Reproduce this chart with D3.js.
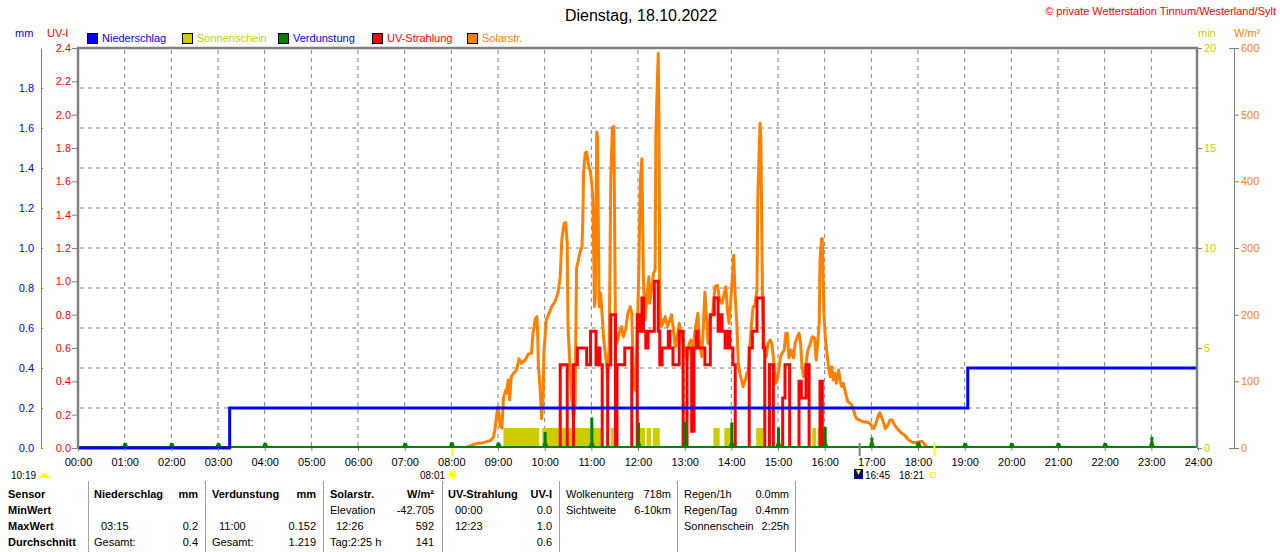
<!DOCTYPE html>
<html>
<head>
<meta charset="utf-8">
<script src="https://cdn.jsdelivr.net/npm/d3@7"></script>
<style>
body { margin:0; background:#fff; }
svg text { font-family: "Liberation Sans", Arial, sans-serif; font-size: 11px; }
</style>
</head>
<body>
<svg id="chart" width="1280" height="552"></svg>
<script>
// ---- data (times in minutes after midnight) ----
var hourLabels = ["00:00","01:00","02:00","03:00","04:00","05:00","06:00","07:00","08:00","09:00","10:00","11:00","12:00",
                  "13:00","14:00","15:00","16:00","17:00","18:00","19:00","20:00","21:00","22:00","23:00","24:00"];
var mmTicks = [0,0.2,0.4,0.6,0.8,1.0,1.2,1.4,1.6,1.8];
var uvTicks = [0,0.2,0.4,0.6,0.8,1.0,1.2,1.4,1.6,1.8,2.0,2.2,2.4];
var minTicks = [0,5,10,15,20];
var wTicks = [0,100,200,300,400,500,600];

// Niederschlag (Tagessumme, mm)
var rainTime = [0, 195, 1144, 1440];
var rainSum  = [0, 0.2, 0.4, 0.4];

// Sonnenschein (min)
var sunStart = [547, 597, 685, 721, 731, 739, 817, 831, 872, 944, 951];
var sunEnd   = [593, 673, 690, 729, 737, 748, 825, 842, 881, 949, 962];
var sunMin   = [1, 1, 1, 1, 1, 1, 1, 1, 1, 1, 1];

// Verdunstung (mm pro Stunde)
var evapHour = [1,2,3,4,5,6,7,8,9,10,11,12,13,14,15,16,17,18,19,20,21,22,23];
var evapMm   = [0.025,0.025,0.025,0.025,0,0,0.025,0.03,0.027,0.08,0.152,0.127,0.13,0.127,0.103,0.105,0.053,0.03,0.025,0.025,0.025,0.025,0.055];

// UV-Strahlung (UV-I)
var uvTime = [0,620,629,637,642,654,659,666,668,671,674,681,685,691,693,703,712,719,723,725,727,730,733,741,746,748,751,759,761,765,
              773,778,783,789,792,795,797,806,813,818,823,825,828,832,836,838,842,845,863,867,873,881,883,889,894,906,909,915,927,930,
              936,940,954,957,1440];
var uvVal  = [0,0.5,0,0.5,0.6,0.5,0.7,0.5,0.6,0.5,0,0.5,0.8,0,0.5,0.6,0,0.8,0.7,0.9,0.7,0.6,0.7,1.0,0.7,0.5,0.6,0.7,0.6,0.5,
              0.7,0,0.6,0.1,0.6,0.7,0.6,0.5,0.8,0.9,0.7,0.8,0.7,0.6,0.7,0.6,0.5,0,0.6,0.7,0.9,0.6,0,0.5,0,0.3,0.5,0,0.4,0.3,
              0.5,0,0.4,0,0];

// Solarstrahlung (W/m²)
var solarTime = [0,499,502,513,521,530,534,536,538,540,543,545,547,550,551,553,555,557,560,564,567,570,575,579,583,585,588,590,591,592,
  594,596,598,599,602,605,609,613,617,620,622,625,627,629,630,633,635,637,639,641,643,645,648,649,650,652,654,656,659,661,
  662,664,665,667,668,670,672,674,676,679,681,683,685,687,689,691,693,697,699,701,704,707,710,712,714,716,718,721,723,725,
  727,729,731,734,735,738,740,742,743,746,747,748,750,752,755,758,761,763,765,768,770,773,776,779,783,786,788,791,794,797,
  799,802,804,806,808,810,813,816,819,822,825,828,830,833,835,837,839,842,843,845,847,849,851,853,855,858,860,862,864,866,
  868,870,873,874,876,877,878,880,882,885,887,890,892,895,897,900,903,905,908,910,912,914,917,920,922,925,927,929,931,933,
  936,938,941,944,947,949,951,953,954,956,957,959,961,963,965,967,969,971,973,975,978,980,982,984,987,988,990,993,995,997,
  999,1001,1005,1010,1014,1018,1023,1026,1029,1031,1034,1038,1041,1044,1047,1050,1055,1059,1063,1068,1072,1076,1080,1085,1088,1091,
  1093,1440];
var solarVal = [0,0,2,7,8,11,16,27,47,62,32,30,75,87,82,102,72,107,112,117,134,127,132,141,142,172,194,197,172,122,
  92,44,77,142,192,200,212,219,232,257,312,337,338,307,182,112,72,42,62,270,280,292,302,342,412,442,444,427,412,392,
  372,212,222,474,467,212,232,197,162,132,102,152,402,481,482,177,157,177,182,167,177,202,212,202,112,87,127,262,402,434,
  252,192,222,257,217,242,262,267,472,592,482,212,182,187,197,182,192,200,182,152,162,187,167,152,132,157,162,152,182,202,
  157,137,182,234,197,157,197,202,242,244,222,217,227,242,207,187,217,267,289,227,187,127,112,102,92,102,112,117,157,187,
  212,212,237,372,457,487,462,227,152,137,157,162,157,127,97,107,135,142,147,172,172,135,147,135,157,167,172,157,120,107,
  125,145,155,167,165,132,157,187,282,314,314,202,162,142,122,107,122,102,112,97,117,100,92,97,82,77,69,67,64,57,
  49,44,42,39,39,37,29,37,49,53,44,29,34,42,42,34,27,22,19,12,9,8,9,10,6,2,
  0,0];

// Sonnenaufgang / Monduntergang / Sonnenuntergang
var sunriseMin = 481, moonMin = 1005, sunsetMin = 1101;

// ---- scales ----
var svg = d3.select("#chart");
var xTime = d3.scaleLinear().domain([0,1440]).range([78,1198]);
var yMm  = d3.scaleLinear().domain([0,2.0]).range([448,48]);
var yUv  = d3.scaleLinear().domain([0,2.4]).range([448,48]);
var yMin = d3.scaleLinear().domain([0,20]).range([448,48]);
var yW   = d3.scaleLinear().domain([0,600]).range([448,48]);
var grey = "#808080";

svg.append("clipPath").attr("id","plotclip") //keep lines inside the plot, above the zero line
    .append("rect").attr("x",78).attr("y",40).attr("width",1120).attr("height",406);

function addText(x, y, str, color, anchor, bold, size) //helper for all labels
{
    return svg.append("text")
        .attr("x", x).attr("y", y)
        .attr("fill", color || "#000")
        .attr("text-anchor", anchor || "start")
        .attr("font-weight", bold ? "bold" : "normal")
        .style("font-size", (size || 11) + "px")
        .text(str);
}

// ---- grid ----
svg.append("g").selectAll("line") //vertical dashed lines every hour
    .data(d3.range(1,24))
    .enter().append("line")
    .attr("x1", d => xTime(d*60) ).attr("x2", d => xTime(d*60))
    .attr("y1", 50).attr("y2", 446)
    .attr("stroke", grey).attr("stroke-dasharray","4,4");
svg.append("g").selectAll("line") //horizontal dashed lines on mm steps
    .data(mmTicks.slice(1))
    .enter().append("line")
    .attr("x1", 80).attr("x2", 1196)
    .attr("y1", d => yMm(d)).attr("y2", d => yMm(d))
    .attr("stroke", grey).attr("stroke-dasharray","4,4");

// ---- sunshine bars ----
svg.append("g").selectAll("rect")
    .data(sunStart)
    .enter().append("rect")
    .attr("x", (d,i) => xTime(d))
    .attr("width", (d,i) => xTime(sunEnd[i]) - xTime(d))
    .attr("y", (d,i) => yMin(sunMin[i]))
    .attr("height", (d,i) => yMin(0) - yMin(sunMin[i]))
    .attr("fill", "#cccc00");

// ---- solar line ----
var solarLine = d3.line().x(d => xTime(d[0])).y(d => yW(d[1]));
svg.append("path")
    .attr("d", solarLine(d3.zip(solarTime, solarVal)))
    .attr("clip-path","url(#plotclip)")
    .attr("fill","none").attr("stroke","#ff8000")
    .attr("stroke-width",3).attr("stroke-linejoin","round");

// ---- UV line ----
var uvLine = d3.line().curve(d3.curveStepAfter).x(d => xTime(d[0])).y(d => yUv(d[1]));
svg.append("path")
    .attr("d", uvLine(d3.zip(uvTime, uvVal)))
    .attr("clip-path","url(#plotclip)")
    .attr("fill","none").attr("stroke","#ff0000").attr("stroke-width",3);

// ---- evaporation ----
svg.append("line") //green zero line
    .attr("x1", 78).attr("x2", 1197).attr("y1", 447).attr("y2", 447)
    .attr("stroke", "#008000").attr("stroke-width", 2);
svg.append("g").selectAll("path")
    .data(evapHour)
    .enter().append("path")
    .attr("d", function(d,i){
        var x = xTime(d*60), top = yMm(evapMm[i]), base = yMm(0);
        if(evapMm[i] == 0) return "";
        var tri = Math.max(top, base - 6);
        return "M" + (x-1) + "," + base + "V" + top + "H" + (x+2) + "V" + base + "Z" +
               "M" + (x-3) + "," + base + "L" + (x-1) + "," + tri + "H" + (x+2) + "L" + (x+4) + "," + base + "Z";
    })
    .attr("fill", "#008000");

// ---- rain ----
var rainLine = d3.line().curve(d3.curveStepAfter).x(d => xTime(d[0])).y(d => yMm(d[1]));
svg.append("path")
    .attr("d", rainLine(d3.zip(rainTime, rainSum)))
    .attr("fill","none").attr("stroke","#0000ff").attr("stroke-width",3);

// ---- frame ----
svg.append("path")
    .attr("d", "M78,448V48H1197V448")
    .attr("fill","none").attr("stroke", grey).attr("stroke-width", 2.5);

// ---- axes ----
function styleAxis(g, color) {
    g.attr("font-size", 11).attr("font-family", "Liberation Sans, Arial, sans-serif");
    g.selectAll("line").attr("stroke", grey);
    g.selectAll("path").attr("stroke", grey);
    g.selectAll("text").attr("fill", color);
}
var xAxis = svg.append("g").attr("transform","translate(0,448)")
    .call(d3.axisBottom(xTime).tickValues(d3.range(0,25).map(h => h*60))
          .tickFormat((d,i) => hourLabels[i]).tickSize(3).tickPadding(7));
styleAxis(xAxis, "#000"); xAxis.select(".domain").remove();

var mmAxis = svg.append("g").attr("transform","translate(41,0)")
    .call(d3.axisLeft(yMm).tickValues(mmTicks).tickFormat(d3.format(".1f")).tickSizeInner(5).tickSizeOuter(0).tickPadding(2));
styleAxis(mmAxis, "#0000ff");
mmAxis.selectAll(".tick line").attr("x2", 2);

var uvAxis = svg.append("g").attr("transform","translate(78,0)")
    .call(d3.axisLeft(yUv).tickValues(uvTicks).tickFormat(d3.format(".1f")).tickSizeInner(6).tickSizeOuter(0).tickPadding(1));
styleAxis(uvAxis, "#ff0000"); uvAxis.select(".domain").remove();

var minAxis = svg.append("g").attr("transform","translate(1197,0)")
    .call(d3.axisRight(yMin).tickValues(minTicks).tickSizeInner(5).tickSizeOuter(0).tickPadding(2));
styleAxis(minAxis, "#cccc00"); minAxis.select(".domain").remove();

var wAxis = svg.append("g").attr("transform","translate(1234,0)")
    .call(d3.axisRight(yW).tickValues(wTicks).tickSizeInner(5).tickSizeOuter(-5).tickPadding(2));
styleAxis(wAxis, "#ff8000");

// ---- markers on time axis ----
svg.append("line").attr("x1", xTime(sunriseMin)).attr("x2", xTime(sunriseMin)).attr("y1",448).attr("y2",456)
    .attr("stroke","#ffff00").attr("stroke-width",2);
svg.append("line").attr("x1", xTime(moonMin)).attr("x2", xTime(moonMin)).attr("y1",443).attr("y2",456)
    .attr("stroke",grey).attr("stroke-width",2);
svg.append("line").attr("x1", xTime(sunsetMin)).attr("x2", xTime(sunsetMin)).attr("y1",443).attr("y2",456)
    .attr("stroke","#ffff00").attr("stroke-width",2);

// ---- titles & legend ----
addText(641, 21, "Dienstag, 18.10.2022", "#000", "middle", false, 16);
addText(1276, 15, "© private Wetterstation Tinnum/Westerland/Sylt", "#ff0000", "end");
addText(15, 37, "mm", "#0000ff");
addText(47, 37, "UV-I", "#ff0000");
addText(1198, 37, "min", "#cccc00");
addText(1234, 37, "W/m²", "#ff8000");

var legendNames = ["Niederschlag","Sonnenschein","Verdunstung","UV-Strahlung","Solarstr."];
var legendFill  = ["#0000ff","#cccc00","#008000","#ff0000","#ff8000"];
var legendText  = ["#0000ff","#cccc00","#0000ff","#ff0000","#ff8000"];
var legendX     = [87, 182, 278, 372, 467];
legendNames.forEach(function(n,i){
    svg.append("rect").attr("x", legendX[i]+0.5).attr("y", 33.5).attr("width", 10).attr("height", 10)
        .attr("fill", legendFill[i]).attr("stroke","#000");
    addText(legendX[i]+15, 42, n, legendText[i]);
});

// ---- sun / moon info under the axis ----
addText(11, 479, "10:19", "#000", "start", false, 10);
svg.append("path").attr("d","M40,478 A4.5,4.5 0 0 1 49,478 Z").attr("fill","#ffff00");
addText(420, 479, "08:01", "#000", "start", false, 10);
svg.append("circle").attr("cx",452.5).attr("cy",474.5).attr("r",3.2).attr("fill","#ffff00");
svg.append("g").selectAll("line").data(d3.range(8)).enter().append("line")
    .attr("x1", d => 452.5 + 4*Math.cos(d*Math.PI/4)).attr("y1", d => 474.5 + 4*Math.sin(d*Math.PI/4))
    .attr("x2", d => 452.5 + 5.5*Math.cos(d*Math.PI/4)).attr("y2", d => 474.5 + 5.5*Math.sin(d*Math.PI/4))
    .attr("stroke","#ffff00").attr("stroke-width",1);
svg.append("rect").attr("x",854).attr("y",469).attr("width",9).attr("height",10).attr("fill","#000080");
svg.append("path").attr("d","M856,470 L861,470 L858.5,475 Z").attr("fill","#ffff00");
addText(865, 479, "16:45", "#000", "start", false, 10);
addText(899, 479, "18:21", "#000", "start", false, 10);
svg.append("rect").attr("x",930.5).attr("y",472.5).attr("width",5).attr("height",5)
    .attr("fill","none").attr("stroke","#ffff00");

// ---- table ----
[88,205,323,442,559,677,795].forEach(function(x){
    svg.append("line").attr("x1",x+0.5).attr("x2",x+0.5).attr("y1",481).attr("y2",552)
        .attr("stroke","#a0a0a0");
});
var r1 = 498, r2 = 514, r3 = 530, r4 = 546;
addText(8, r1, "Sensor", "#000", "start", true);
addText(8, r2, "MinWert", "#000", "start", true);
addText(8, r3, "MaxWert", "#000", "start", true);
addText(8, r4, "Durchschnitt", "#000", "start", true);

addText(94, r1, "Niederschlag", "#000", "start", true);
addText(198, r1, "mm", "#000", "end", true);
addText(101, r3, "03:15");
addText(198, r3, "0.2", "#000", "end");
addText(94, r4, "Gesamt:");
addText(198, r4, "0.4", "#000", "end");

addText(212, r1, "Verdunstung", "#000", "start", true);
addText(316, r1, "mm", "#000", "end", true);
addText(219, r3, "11:00");
addText(316, r3, "0.152", "#000", "end");
addText(212, r4, "Gesamt:");
addText(316, r4, "1.219", "#000", "end");

addText(330, r1, "Solarstr.", "#000", "start", true);
addText(434, r1, "W/m²", "#000", "end", true);
addText(330, r2, "Elevation");
addText(434, r2, "-42.705", "#000", "end");
addText(336, r3, "12:26");
addText(434, r3, "592", "#000", "end");
addText(330, r4, "Tag:2:25 h");
addText(434, r4, "141", "#000", "end");

addText(448, r1, "UV-Strahlung", "#000", "start", true);
addText(552, r1, "UV-I", "#000", "end", true);
addText(455, r2, "00:00");
addText(552, r2, "0.0", "#000", "end");
addText(455, r3, "12:23");
addText(552, r3, "1.0", "#000", "end");
addText(552, r4, "0.6", "#000", "end");

addText(566, r1, "Wolkenunterg");
addText(671, r1, "718m", "#000", "end");
addText(566, r2, "Sichtweite");
addText(671, r2, "6-10km", "#000", "end");

addText(684, r1, "Regen/1h");
addText(789, r1, "0.0mm", "#000", "end");
addText(684, r2, "Regen/Tag");
addText(789, r2, "0.4mm", "#000", "end");
addText(684, r3, "Sonnenschein");
addText(789, r3, "2:25h", "#000", "end");
</script>
</body>
</html>
